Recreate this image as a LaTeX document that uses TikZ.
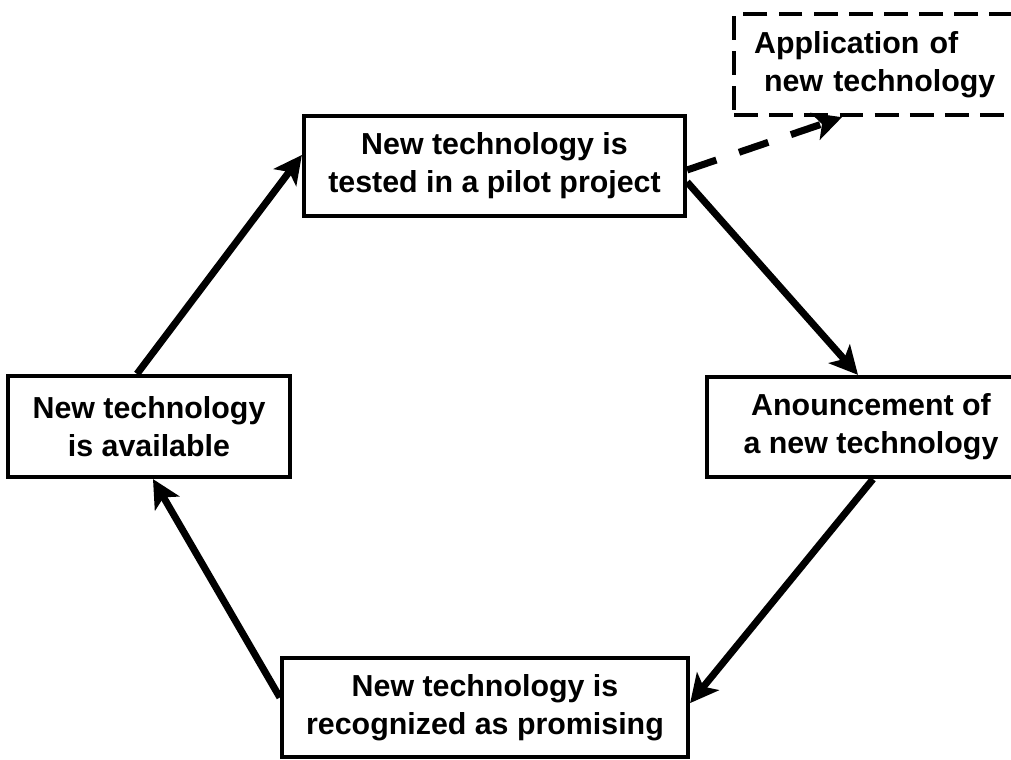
\documentclass[tikz,border=0pt]{standalone}
\usepackage{fontspec}
\setmainfont{Liberation Sans}
\usepackage{tikz}
\usetikzlibrary{arrows.meta,calc}

\begin{document}
\begin{tikzpicture}[>={Stealth[length=20pt,width=20pt,inset=5pt]}, line join=miter,
    box/.style={draw, line width=3pt, align=center, inner sep=0pt,
                font=\bfseries\fontsize{21.6}{27}\selectfont},
    dashbox/.style={box, dash pattern=on 17pt off 8pt},
    flow/.style={->, line width=5pt}]

  \useasboundingbox (0,0) rectangle (25.275,19);
  \clip (0,0) rectangle (25.275,19);

  % --- the five stages ---
  \node[box, minimum width=9.525cm, minimum height=2.5cm] (pilot) at (12.3625,14.85)
       {New technology is\\ tested in a pilot project};
  \node[box, minimum width=7.05cm, minimum height=2.525cm] (avail) at (3.725,8.3375)
       {New technology\\ is available};
  \node[box, minimum width=8.2cm, minimum height=2.5cm] (announce) at (21.775,8.325)
       {Anouncement of\\ a new technology};
  \node[box, minimum width=10.15cm, minimum height=2.475cm] (promising) at (12.125,1.3125)
       {New technology is\\ recognized as promising};
  \node[dashbox, anchor=north west, minimum width=7.5cm, minimum height=2.525cm,
        align=left, text width=6.5cm] (application) at (18.3,18.7)
       {Application of\\\hspace*{0.25cm}new technology};

  % --- cycle arrows ---
  \draw[flow] ($(avail.north)+(-0.3,0)$) -- ($(pilot.west)+(0,0.275)$);
  \draw[flow] ($(pilot.east)+(0,-0.4)$) -- ($(announce.north)+(-0.325,0)$);
  \draw[flow] ($(announce.south)+(0.05,0)$) -- ($(promising.east)+(0,0.11)$);
  \draw[flow] ($(promising.west)+(0,0.25)$) -- ($(avail.south)+(0.1,0)$);

  % --- way out of the cycle ---
  \draw[flow, dash pattern=on 22pt off 17pt] ($(pilot.east)+(0,-0.1)$)
       -- ($(application.south west)+(2.75,0)$);
\end{tikzpicture}
\end{document}
